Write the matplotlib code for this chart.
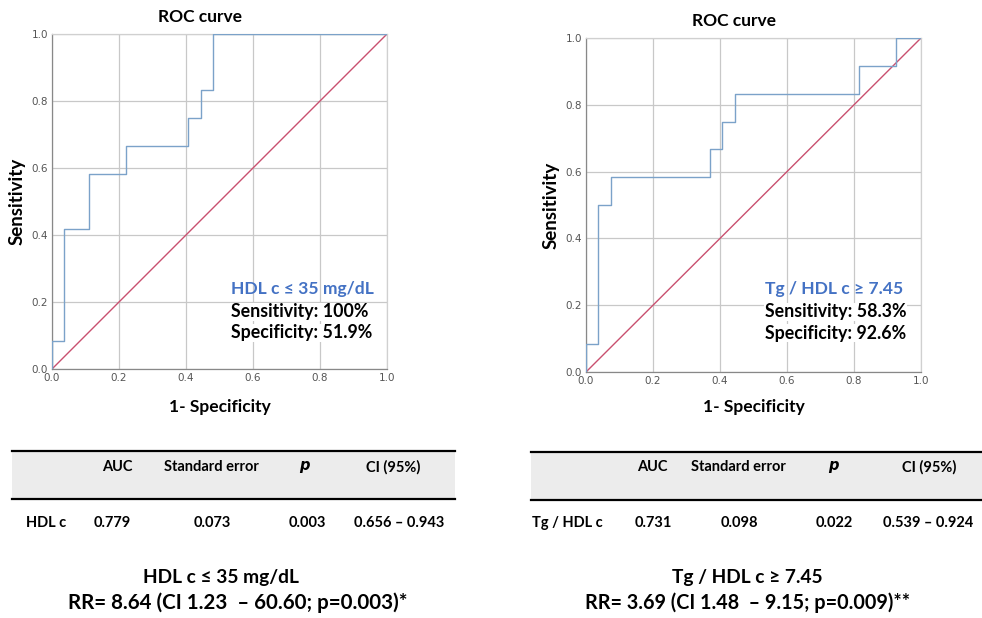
import matplotlib
matplotlib.use("Agg")
import matplotlib.pyplot as plt
from matplotlib.patches import Rectangle

plt.rcParams['font.family'] = ['Lato', 'DejaVu Sans']

# ---------------- data ----------------
roc1_fpr = [0.0, 0.0, 0.037, 0.037, 0.111, 0.111, 0.222, 0.222, 0.407, 0.407, 0.444, 0.444, 0.481, 0.481, 1.0]
roc1_tpr = [0.0, 0.083, 0.083, 0.417, 0.417, 0.583, 0.583, 0.667, 0.667, 0.75, 0.75, 0.833, 0.833, 1.0, 1.0]
roc2_fpr = [0.0, 0.0, 0.037, 0.037, 0.074, 0.074, 0.370, 0.370, 0.407, 0.407, 0.444, 0.444, 0.815, 0.815, 0.926, 0.926, 1.0]
roc2_tpr = [0.0, 0.083, 0.083, 0.5, 0.5, 0.583, 0.583, 0.667, 0.667, 0.75, 0.75, 0.833, 0.833, 0.917, 0.917, 1.0, 1.0]
ticks = [0.0, 0.2, 0.4, 0.6, 0.8, 1.0]
tick_labels = ["0.0", "0.2", "0.4", "0.6", "0.8", "1.0"]

annot1 = ["HDL c \u2264 35 mg/dL", "Sensitivity: 100%", "Specificity: 51.9%"]
annot2 = ["Tg / HDL c \u2265 7.45", "Sensitivity: 58.3%", "Specificity: 92.6%"]

table_cols = ["AUC", "Standard error", "$\\boldsymbol{p}$", "CI (95%)"]
table1_row = ["HDL c", "0.779", "0.073", "0.003", "0.656 \u2013 0.943"]
table2_row = ["Tg / HDL c", "0.731", "0.098", "0.022", "0.539 \u2013 0.924"]

rr1 = ["HDL c \u2264 35 mg/dL", "RR= 8.64 (CI 1.23  \u2013 60.60; p=0.003)*"]
rr2 = ["Tg / HDL c \u2265 7.45", "RR= 3.69 (CI 1.48  \u2013 9.15; p=0.009)**"]

# ---------------- figure ----------------
W, H = 982, 618
fig = plt.figure(figsize=(W / 100, H / 100), dpi=100)
fig.patch.set_facecolor("white")

BLUE = "#4472C4"
CURVE = "#7BA2C9"
DIAG = "#C9506F"


def px_axes(x0, y0, x1, y1):
    return fig.add_axes([x0 / W, 1 - y1 / H, (x1 - x0) / W, (y1 - y0) / H])


def roc_panel(ax, box, fpr, tpr, annot):
    x0, y0, x1, y1 = box

    def fx(px):
        return (px - x0) / (x1 - x0)

    def fy(py):
        return (y1 - py) / (y1 - y0)

    ax.plot([0, 1], [0, 1], color=DIAG, lw=1.0, zorder=2)
    ax.plot(fpr, tpr, color=CURVE, lw=1.0, zorder=3)
    ax.set_xlim(0, 1)
    ax.set_ylim(0, 1)
    ax.set_xticks(ticks)
    ax.set_yticks(ticks)
    ax.set_xticklabels(tick_labels)
    ax.set_yticklabels(tick_labels)
    ax.tick_params(length=0, labelsize=7.5, colors="#555555", pad=3,
                   labelfontfamily="DejaVu Sans")
    ax.grid(True, color="#C8C8C8", lw=0.9, zorder=0)
    for s in ["top", "right"]:
        ax.spines[s].set_color("#D0D0D0")
    for s in ["left", "bottom"]:
        ax.spines[s].set_color("#888888")
    for s in ax.spines.values():
        s.set_linewidth(0.9)
    ax.text(fx(x0 + 148), fy(y0 - 17), "ROC curve", transform=ax.transAxes,
            ha="center", va="center", fontsize=12.5, fontweight="bold")
    ax.set_xlabel("1- Specificity", fontsize=12.5, fontweight="bold")
    ax.xaxis.set_label_coords(0.5, fy(399))
    ax.set_ylabel("Sensitivity", fontsize=13.5, fontweight="bold")
    ax.yaxis.set_label_coords(fx(x0 - 26), 0.5)
    tx = fx(x0 + 179)
    ax.text(tx, fy(289), annot[0], transform=ax.transAxes, color=BLUE,
            fontsize=12.6, fontweight="bold", va="center", ha="left", zorder=5)
    for py, s in [(312, annot[1]), (333, annot[2])]:
        ax.text(tx, fy(py), s, transform=ax.transAxes, color="black",
                fontsize=12.8, fontweight="bold", va="center", ha="left", zorder=5,
                bbox=dict(facecolor="white", edgecolor="none", pad=0.5))


box1 = (52, 34, 387, 369)
ax1 = px_axes(*box1)
roc_panel(ax1, box1, roc1_fpr, roc1_tpr, annot1)
box2 = (586, 38, 921, 372)
ax2 = px_axes(*box2)
roc_panel(ax2, box2, roc2_fpr, roc2_tpr, annot2)

# ---------------- tables & text overlay ----------------
ov = fig.add_axes([0, 0, 1, 1], zorder=-1)
ov.set_xlim(0, W)
ov.set_ylim(H, 0)
ov.axis("off")


def table(x0, x1, y_top, y_mid, label_x, hdr_x, dat_x, row):
    ov.add_patch(Rectangle((x0, y_top), x1 - x0, y_mid - y_top,
                           facecolor="#ECECEC", edgecolor="none"))
    ov.plot([x0, x1], [y_top, y_top], color="black", lw=1.6)
    ov.plot([x0, x1], [y_mid, y_mid], color="black", lw=1.6)
    for cx, c in zip(hdr_x, table_cols):
        ov.text(cx, 467, c, ha="center", va="center", fontsize=10.5, fontweight="bold")
    ov.text(label_x, 523, row[0], ha="left", va="center", fontsize=10.5, fontweight="bold")
    for cx, c in zip(dat_x, row[1:]):
        ov.text(cx, 523, c, ha="center", va="center", fontsize=10.5, fontweight="bold")


table(12, 455, 451, 499, 26, [117, 211, 305, 393], [112, 212, 307, 399], table1_row)
table(531, 982, 452, 500, 532, [652, 738, 834, 929], [653, 739, 834, 928], table2_row)

for (cx1, cx2, fs2), lines in [((221, 238, 14.8), rr1), ((747, 748, 14.2), rr2)]:
    ov.text(cx1, 578, lines[0], ha="center", va="center", fontsize=13.8, fontweight="bold")
    ov.text(cx2, 603, lines[1], ha="center", va="center", fontsize=fs2, fontweight="bold")

fig.savefig("out.png", dpi=100)
